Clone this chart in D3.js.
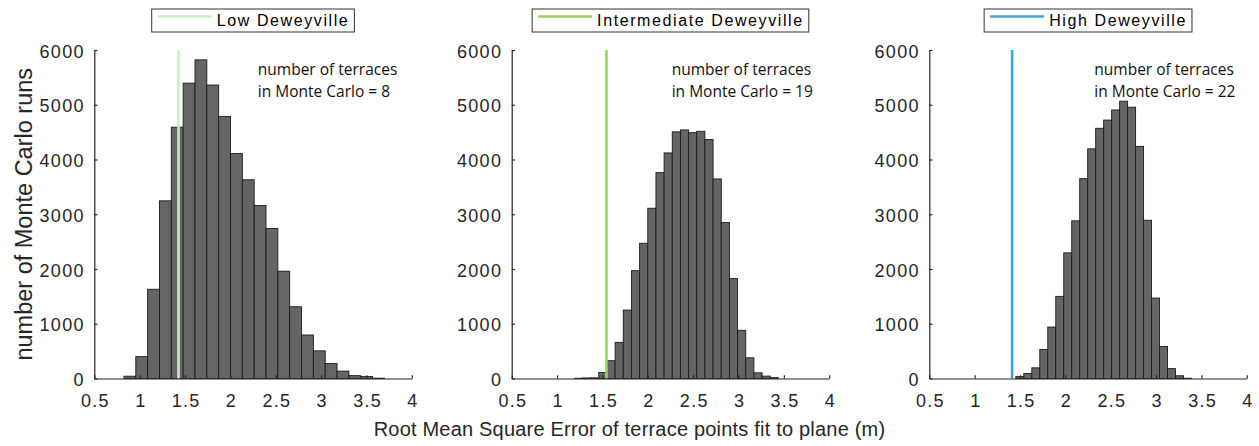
<!DOCTYPE html>
<html>
<head>
<meta charset="utf-8">
<script src="https://cdn.jsdelivr.net/npm/d3@7"></script>
<style>
  body { margin: 0; background: #fff; }
  svg text { font-family: "Liberation Sans", Arial, Helvetica, sans-serif; }
</style>
</head>
<body>
<svg id="chart" width="1259" height="446"></svg>
<script>
// Monte Carlo RMSE histograms for the three Deweyville terrace groups
const panelNames = ["Low Deweyville", "Intermediate Deweyville", "High Deweyville"];
const terraceCounts = [8, 19, 22];

// histogram bins: first edge and bin width for each group
const binStarts = [0.827, 1.19, 1.454];
const binWidths = [0.1305, 0.09, 0.088];

const lowCounts = [42, 400, 1630, 3245, 4590, 5395, 5820, 5360, 4785, 4110, 3630,
  3160, 2740, 1960, 1310, 795, 505, 275, 135, 52, 38, 6];
const intermediateCounts = [4, 10, 12, 112, 325, 660, 1250, 1970, 2470, 3110, 3760,
  4120, 4505, 4540, 4490, 4515, 4365, 3645, 2850, 1825, 880, 378, 104, 44, 15];
const highCounts = [35, 92, 195, 530, 940, 1500, 2295, 2880, 3650, 4195, 4570, 4720,
  4905, 5065, 4955, 4240, 2890, 1470, 585, 180, 50, 5];

// RMSE of the actual terrace points for each group
const observedRmse = [1.428, 1.545, 1.413];

const xTicks = [0.5, 1, 1.5, 2, 2.5, 3, 3.5, 4];
const yTicks = [0, 1000, 2000, 3000, 4000, 5000, 6000];

const allCounts = [lowCounts, intermediateCounts, highCounts];
const lineColors = ["#cdeac9", "#95d55c", "#3ea6d6"];

// ---- layout ----
const svg = d3.select("#chart");
const panelLeft = [94.3, 511.7, 929.3];
const panelWidth = 317.5;
const plotTop = 50, plotBottom = 378.5;
const axisColor = "#262626";
const annoOffset = [163.5, 160, 165];

const y = d3.scaleLinear().domain([0, 6000]).range([plotBottom, plotTop]);

panelNames.forEach((name, p) => {
  const x = d3.scaleLinear().domain([0.5, 4]).range([panelLeft[p], panelLeft[p] + panelWidth]);
  const g = svg.append("g");

  const bins = allCounts[p].map((c, i) => ({
    x0: binStarts[p] + i * binWidths[p],
    x1: binStarts[p] + (i + 1) * binWidths[p],
    count: c
  }));

  g.selectAll("rect.bar").data(bins).join("rect")
    .attr("class", "bar")
    .attr("x", d => x(d.x0))
    .attr("width", d => x(d.x1) - x(d.x0))
    .attr("y", d => y(d.count))
    .attr("height", d => y(0) - y(d.count))
    .attr("fill", "#656565")
    .attr("stroke", "#1c1c1c")
    .attr("stroke-width", 0.9);

  // observed RMSE marker
  g.append("line")
    .attr("x1", x(observedRmse[p])).attr("x2", x(observedRmse[p]))
    .attr("y1", y(6000)).attr("y2", y(0))
    .attr("stroke", lineColors[p]).attr("stroke-width", 2.6);

  // axes with inward ticks
  const yAxis = d3.axisLeft(y).tickValues(yTicks).tickSizeInner(-3.2).tickSizeOuter(0).tickPadding(9.5)
    .tickFormat(d3.format("d"));
  const ya = g.append("g").attr("transform", `translate(${panelLeft[p]},0)`).call(yAxis);
  const xAxis = d3.axisBottom(x).tickValues(xTicks).tickSizeInner(-3.2).tickSizeOuter(0).tickPadding(15.5)
    .tickFormat(d3.format("~g"));
  const xa = g.append("g").attr("transform", `translate(0,${plotBottom})`).call(xAxis);

  [ya, xa].forEach(a => {
    a.select(".domain").attr("stroke", axisColor).attr("stroke-width", 1.2);
    a.selectAll(".tick line").attr("stroke", axisColor).attr("stroke-width", 1.2);
    a.selectAll(".tick text")
      .attr("fill", axisColor)
      .style("font-family", '"Liberation Sans", Arial, sans-serif')
      .style("font-size", "18px")
      .style("letter-spacing", "1.3px");
  });
  ya.selectAll(".tick text").attr("dy", "0.4em");
  xa.selectAll(".tick text").attr("dy", "0.71em").attr("dx", 0.65);

  // legend
  const lg = g.append("g");
  const box = lg.append("rect").attr("fill", "#fff").attr("stroke", "#333").attr("stroke-width", 1);
  const sample = lg.append("line").attr("stroke", lineColors[p]).attr("stroke-width", 2.6);
  const lt = lg.append("text").text(name)
    .attr("y", 25.5)
    .attr("fill", "#000")
    .style("font-size", "16px")
    .style("letter-spacing", "1.6px");
  const tw = lt.node().getComputedTextLength();
  const bw = 65 + tw + 5;
  const cx = panelLeft[p] + panelWidth / 2;
  const bx = cx - bw / 2;
  box.attr("x", bx).attr("y", 9).attr("width", bw).attr("height", 23);
  sample.attr("x1", bx + 6).attr("x2", bx + 60).attr("y1", 16.5).attr("y2", 16.5);
  lt.attr("x", bx + 65);

  // annotation
  const at = g.append("text")
    .attr("x", panelLeft[p] + annoOffset[p])
    .attr("fill", "#111")
    .style("font-family", '"Open Sans", sans-serif')
    .style("font-size", "15.5px");
  at.append("tspan").attr("x", panelLeft[p] + annoOffset[p]).attr("y", 75).text("number of terraces");
  at.append("tspan").attr("x", panelLeft[p] + annoOffset[p]).attr("y", 96.7)
    .text(`in Monte Carlo = ${terraceCounts[p]}`);
});

// shared axis titles
svg.append("text")
  .attr("transform", `translate(31.5,${(plotTop + plotBottom) / 2}) rotate(-90)`)
  .attr("text-anchor", "middle")
  .attr("fill", axisColor)
  .style("font-size", "23.5px")
  .text("number of Monte Carlo runs");

svg.append("text")
  .attr("x", 629.5).attr("y", 436)
  .attr("text-anchor", "middle")
  .attr("fill", axisColor)
  .style("font-size", "20px")
  .style("letter-spacing", "0.2px")
  .text("Root Mean Square Error of terrace points fit to plane (m)");
</script>
</body>
</html>
